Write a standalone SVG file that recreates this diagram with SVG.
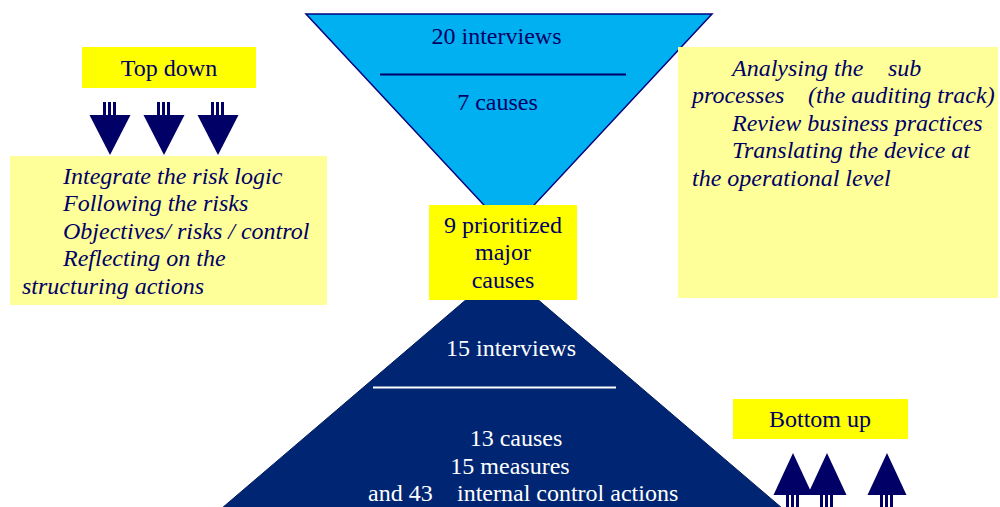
<svg xmlns="http://www.w3.org/2000/svg" width="1000" height="507" viewBox="0 0 1000 507">
<defs>
<g id="downArrow">
<polygon points="-20.5,-40 20.5,-40 0,0"/>
<rect x="-7" y="-53" width="3" height="14"/>
<rect x="-2" y="-53" width="3" height="14"/>
<rect x="3" y="-53" width="3" height="14"/>
</g>
<g id="upArrow">
<polygon points="0,0 -19.5,42 19.5,42"/>
<rect x="-7" y="41" width="3" height="20"/>
<rect x="-2" y="41" width="3" height="20"/>
<rect x="3" y="41" width="3" height="20"/>
</g>
</defs>
<rect width="1000" height="507" fill="#ffffff"/>

<g id="funnel-top">
<polygon points="306,14 712,14 509,232" fill="#00B0F0" stroke="#000080" stroke-width="1.5"/>
<line x1="380" y1="74.5" x2="626" y2="74.5" stroke="#000066" stroke-width="2"/>
<text x="496.5" y="44" font-family="Liberation Serif" font-size="24" fill="#000066" text-anchor="middle">20 interviews</text>
<text x="497.5" y="110" font-family="Liberation Serif" font-size="24" fill="#000066" text-anchor="middle">7 causes</text>
</g>

<g id="pyramid-bottom">
<polygon points="502,269 796,520 208,520" fill="#002673" stroke="#001a5e" stroke-width="1"/>
<line x1="373" y1="387.5" x2="616" y2="387.5" stroke="#ffffff" stroke-width="2"/>
<text x="511" y="356" font-family="Liberation Serif" font-size="24" fill="#ffffff" text-anchor="middle">15 interviews</text>
<text x="516" y="446" font-family="Liberation Serif" font-size="24" fill="#ffffff" text-anchor="middle">13 causes</text>
<text x="510" y="474" font-family="Liberation Serif" font-size="24" fill="#ffffff" text-anchor="middle">15 measures</text>
<text x="368" y="501" font-family="Liberation Serif" font-size="24" fill="#ffffff">and 43</text>
<text x="457" y="501" font-family="Liberation Serif" font-size="24" fill="#ffffff">internal control actions</text>
</g>

<g id="center-box">
<rect x="429" y="205" width="148" height="95" fill="#FFFF00"/>
<text x="503" y="233" font-family="Liberation Serif" font-size="24" fill="#000066" text-anchor="middle">9 prioritized</text>
<text x="503" y="260" font-family="Liberation Serif" font-size="24" fill="#000066" text-anchor="middle">major</text>
<text x="503" y="288" font-family="Liberation Serif" font-size="24" fill="#000066" text-anchor="middle">causes</text>
</g>

<g id="top-down">
<rect x="82" y="47" width="174" height="41" fill="#FFFF00"/>
<text x="169" y="76" font-family="Liberation Serif" font-size="24" fill="#000066" text-anchor="middle">Top down</text>
</g>

<g id="bottom-up">
<rect x="733" y="399" width="175" height="40" fill="#FFFF00"/>
<text x="820" y="427" font-family="Liberation Serif" font-size="24" fill="#000066" text-anchor="middle">Bottom up</text>
</g>

<g id="left-note">
<rect x="10" y="156" width="317" height="149" fill="#FFFF99"/>
<text x="63" y="184" font-family="Liberation Serif" font-size="24" font-style="italic" fill="#000066">Integrate the risk logic</text>
<text x="63" y="211" font-family="Liberation Serif" font-size="24" font-style="italic" fill="#000066">Following the risks</text>
<text x="63" y="239" font-family="Liberation Serif" font-size="24" font-style="italic" fill="#000066">Objectives/ risks / control</text>
<text x="63" y="266" font-family="Liberation Serif" font-size="24" font-style="italic" fill="#000066">Reflecting on the</text>
<text x="22" y="294" font-family="Liberation Serif" font-size="24" font-style="italic" fill="#000066">structuring actions</text>
</g>

<g id="right-note">
<rect x="678" y="47" width="320" height="251" fill="#FFFF99"/>
<text x="732" y="76" font-family="Liberation Serif" font-size="24" font-style="italic" fill="#000066">Analysing the</text>
<text x="888" y="76" font-family="Liberation Serif" font-size="24" font-style="italic" fill="#000066">sub</text>
<text x="692" y="103" font-family="Liberation Serif" font-size="24" font-style="italic" fill="#000066">processes</text>
<text x="808" y="103" font-family="Liberation Serif" font-size="24" font-style="italic" fill="#000066">(the auditing track)</text>
<text x="732" y="131" font-family="Liberation Serif" font-size="24" font-style="italic" fill="#000066">Review business practices</text>
<text x="732" y="158" font-family="Liberation Serif" font-size="24" font-style="italic" fill="#000066">Translating the device at</text>
<text x="692" y="186" font-family="Liberation Serif" font-size="24" font-style="italic" fill="#000066">the operational level</text>
</g>

<g id="connectors" fill="#000066">
<use href="#downArrow" x="110" y="155"/>
<use href="#downArrow" x="164" y="155"/>
<use href="#downArrow" x="218" y="155"/>
<use href="#upArrow" x="793" y="453"/>
<use href="#upArrow" x="827" y="453"/>
<use href="#upArrow" x="887" y="453"/>
</g>
</svg>
